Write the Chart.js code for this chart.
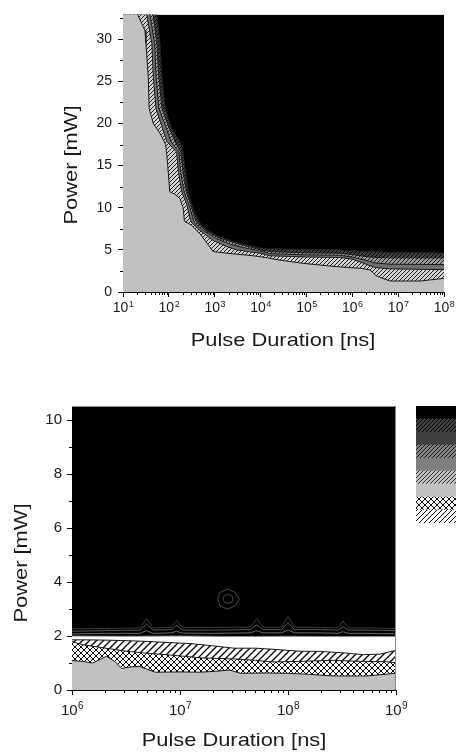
<!DOCTYPE html>
<html>
<head>
<meta charset="utf-8">
<script src="https://cdn.jsdelivr.net/npm/chart.js@4.4.0/dist/chart.umd.min.js"></script>
<style>
  html, body { margin: 0; padding: 0; background: #fff; }
  #wrap { position: relative; width: 456px; height: 756px; overflow: hidden; }
  #wrap canvas { position: absolute; }
</style>
</head>
<body>
<div id="wrap">
  <canvas id="topchart" width="456" height="360" style="left:0;top:0"></canvas>
  <canvas id="bottomchart" width="456" height="376" style="left:0;top:380px"></canvas>
  <canvas id="scalechart" width="40" height="117" style="left:416px;top:406px"></canvas>
</div>
<script>
const FONT = '"Liberation Sans", Arial, Helvetica, sans-serif';

// ---- top panel, x = log10(pulse duration / ns), y = power in mW ----
const topDecades = [1, 2, 3, 4, 5, 6, 7, 8];
const topPowerTicks = [0, 5, 10, 15, 20, 25, 30];
const topPowerMinor = [2.5, 7.5, 12.5, 17.5, 22.5, 27.5, 32.5];

// edge of the light grey area
const topEdge1Exp = [1.00, 1.30, 1.33, 1.48, 1.50, 1.55, 1.57, 1.63, 1.66, 1.81, 1.93, 1.96, 1.99, 2.02, 2.13, 2.24, 2.31, 2.34, 2.50, 2.68, 2.83, 2.97, 3.26, 3.84, 4.10, 4.40, 4.93, 5.66, 6.20, 6.39, 6.53, 6.82, 7.20, 7.48, 7.98, 8.00];
const topEdge1Pow = [45, 34.5, 32.8, 31.0, 29.5, 25.6, 21.8, 20.6, 20.0, 18.8, 17.5, 16.0, 14.0, 11.9, 11.6, 11.1, 10.0, 8.4, 7.9, 6.9, 5.8, 4.8, 4.6, 4.3, 4.1, 3.8, 3.4, 3.0, 2.8, 2.6, 1.9, 1.3, 1.3, 1.3, 1.6, 1.6];
// top of first hatched band
const topEdge2Exp = [1.00, 1.45, 1.52, 1.63, 1.66, 1.72, 1.84, 1.95, 2.17, 2.21, 2.28, 2.39, 2.46, 2.50, 2.68, 2.97, 3.26, 3.48, 3.99, 4.20, 5.00, 5.73, 6.00, 6.30, 6.50, 6.82, 8.00];
const topEdge2Pow = [45, 34.5, 32.8, 29.5, 25.6, 21.8, 19.8, 17.9, 16.6, 14.2, 11.9, 10.4, 8.8, 8.2, 7.3, 6.1, 5.4, 5.0, 4.6, 4.3, 4.15, 4.1, 3.9, 3.3, 2.9, 2.75, 2.65];
// top of mid grey band
const topEdge3Exp = [1.00, 1.52, 1.59, 1.69, 1.72, 1.78, 1.92, 2.04, 2.22, 2.26, 2.33, 2.44, 2.52, 2.56, 2.75, 3.05, 3.35, 3.60, 4.00, 4.20, 5.00, 5.73, 6.00, 6.30, 6.50, 6.82, 8.00];
const topEdge3Pow = [45, 34.5, 32.8, 29.5, 25.6, 21.8, 19.8, 17.9, 16.6, 14.2, 11.9, 10.4, 8.8, 8.2, 7.3, 6.3, 5.65, 5.3, 4.85, 4.55, 4.4, 4.35, 4.15, 3.75, 3.45, 3.3, 3.25];
// top of second hatched band
const topEdge4Exp = [1.00, 1.57, 1.66, 1.74, 1.78, 1.85, 1.98, 2.13, 2.26, 2.31, 2.38, 2.48, 2.56, 2.62, 2.80, 3.10, 3.45, 3.70, 4.00, 4.20, 5.00, 5.73, 6.00, 6.30, 6.50, 6.82, 8.00];
const topEdge4Pow = [45, 34.5, 32.8, 29.5, 25.6, 21.8, 19.8, 17.9, 16.6, 14.2, 11.9, 10.4, 8.8, 8.2, 7.3, 6.4, 5.8, 5.45, 5.0, 4.8, 4.65, 4.6, 4.45, 4.2, 4.1, 4.05, 4.05];
// start of the black area
const topEdge5Exp = [1.00, 1.62, 1.74, 1.80, 1.84, 1.92, 2.05, 2.23, 2.31, 2.36, 2.42, 2.52, 2.61, 2.72, 2.86, 2.98, 3.12, 3.40, 3.69, 4.00, 4.50, 5.00, 5.66, 6.00, 6.39, 7.00, 7.50, 8.00];
const topEdge5Pow = [45, 34.5, 32.8, 30.0, 26.0, 21.8, 19.5, 17.9, 16.6, 14.2, 11.9, 10.0, 8.8, 7.8, 7.3, 6.9, 6.5, 6.0, 5.6, 5.2, 5.1, 5.0, 5.0, 4.9, 4.8, 4.65, 4.7, 4.6];

// ---- bottom panel ----
const botDecades = [6, 7, 8, 9];
const botPowerTicks = [0, 2, 4, 6, 8, 10];
const botPowerMinor = [1, 3, 5, 7, 9];

const botEdge1Exp = [6.00, 6.10, 6.19, 6.32, 6.40, 6.46, 6.55, 6.63, 6.77, 7.00, 7.19, 7.35, 7.46, 7.56, 7.80, 7.99, 8.20, 8.42, 8.73, 9.00];
const botEdge1Pow = [1.09, 1.06, 1.00, 1.25, 1.05, 0.80, 0.86, 0.87, 0.66, 0.67, 0.66, 0.70, 0.74, 0.62, 0.63, 0.62, 0.58, 0.52, 0.52, 0.62];
const botEdge2Exp = [6.00, 6.10, 6.26, 6.40, 6.50, 6.70, 6.90, 7.20, 7.50, 7.70, 7.86, 8.10, 8.40, 8.70, 8.90, 9.00];
const botEdge2Pow = [1.79, 1.68, 1.58, 1.50, 1.44, 1.36, 1.30, 1.19, 1.15, 1.10, 1.04, 1.06, 1.10, 1.06, 1.05, 1.01];
const botEdge3Exp = [6.00, 6.10, 6.30, 6.50, 6.70, 6.90, 7.10, 7.30, 7.50, 7.70, 7.90, 8.10, 8.30, 8.50, 8.70, 8.85, 9.00];
const botEdge3Pow = [1.86, 1.86, 1.85, 1.83, 1.80, 1.76, 1.72, 1.64, 1.55, 1.55, 1.50, 1.44, 1.43, 1.38, 1.31, 1.33, 1.47];
const botEdge4Exp = [6.00, 6.50, 7.00, 7.50, 8.00, 8.50, 9.00];
const botEdge4Pow = [2.00, 1.99, 2.00, 1.98, 1.99, 1.98, 1.98];

// thin contour lines inside the black area
const botContourExp = [6.00, 6.30, 6.63, 6.69, 6.75, 6.92, 6.97, 7.02, 7.30, 7.65, 7.71, 7.77, 7.94, 8.00, 8.06, 8.30, 8.46, 8.51, 8.56, 8.75, 9.00];
const botContourA = [2.08, 2.10, 2.10, 2.20, 2.10, 2.12, 2.18, 2.11, 2.10, 2.12, 2.20, 2.12, 2.12, 2.22, 2.12, 2.12, 2.10, 2.16, 2.10, 2.10, 2.08];
const botContourB = [2.18, 2.20, 2.22, 2.45, 2.22, 2.24, 2.40, 2.22, 2.22, 2.24, 2.42, 2.24, 2.24, 2.50, 2.24, 2.24, 2.22, 2.35, 2.22, 2.22, 2.20];
const botContourC = [2.27, 2.28, 2.30, 2.65, 2.30, 2.32, 2.58, 2.31, 2.32, 2.33, 2.64, 2.33, 2.33, 2.72, 2.33, 2.32, 2.30, 2.55, 2.30, 2.30, 2.28];
const botRingOuterExp = [7.35, 7.37, 7.44, 7.51, 7.55, 7.51, 7.44, 7.37, 7.35];
const botRingOuterPow = [3.38, 3.62, 3.74, 3.62, 3.38, 3.12, 3.00, 3.12, 3.38];
const botRingInnerExp = [7.40, 7.41, 7.44, 7.48, 7.49, 7.48, 7.44, 7.41, 7.40];
const botRingInnerPow = [3.38, 3.50, 3.56, 3.50, 3.38, 3.26, 3.20, 3.26, 3.38];

// colour scale at the right, bottom step first
const scaleSteps = [1, 1, 1, 1, 1, 1, 1, 1, 1];

// --- fills ---
function hatch(ctx, bg, fg, size, cross, lw) {
  const c = document.createElement('canvas');
  c.width = size; c.height = size;
  const g = c.getContext('2d');
  g.fillStyle = bg;
  g.fillRect(0, 0, size, size);
  g.strokeStyle = fg;
  g.lineWidth = lw || 1;
  g.beginPath();
  g.moveTo(-1, size + 1); g.lineTo(size + 1, -1);
  g.moveTo(-1, 1); g.lineTo(1, -1);
  g.moveTo(size - 1, size + 1); g.lineTo(size + 1, size - 1);
  if (cross) {
    g.moveTo(-1, -1); g.lineTo(size + 1, size + 1);
    g.moveTo(size - 1, -1); g.lineTo(size + 1, 1);
    g.moveTo(-1, size - 1); g.lineTo(1, size + 1);
  }
  g.stroke();
  return ctx.createPattern(c, 'repeat');
}

function toPoints(exps, vals) {
  return exps.map((e, i) => ({ x: Math.pow(10, e), y: vals[i] }));
}

function edge(exps, vals, fill, bg, line, width) {
  return {
    data: toPoints(exps, vals),
    fill: fill,
    backgroundColor: bg,
    borderColor: line,
    borderWidth: width,
    pointRadius: 0,
    tension: 0
  };
}

function minorDecades(decades) {
  const out = [];
  decades.slice(0, -1).forEach(n => {
    for (let k = 2; k <= 9; k++) out.push(k * Math.pow(10, n));
  });
  return out;
}

const tickGrid = { display: true, drawOnChartArea: false, drawTicks: true, tickLength: 5, color: '#000', tickWidth: 1 };
const axisLine = { display: true, color: '#000', width: 1 };

function logAxis(decades, height) {
  return {
    type: 'logarithmic',
    min: Math.pow(10, decades[0]),
    max: Math.pow(10, decades[decades.length - 1]),
    afterBuildTicks: s => { s.ticks = decades.map(n => ({ value: Math.pow(10, n) })); },
    afterFit: s => { s.height = height; },
    ticks: { display: false },
    grid: tickGrid,
    border: axisLine
  };
}

function powerAxis(max, ticks, width, size, pad) {
  return {
    type: 'linear',
    min: 0,
    max: max,
    afterBuildTicks: s => { s.ticks = ticks.map(v => ({ value: v })); },
    afterFit: s => { s.width = width; },
    ticks: { font: { family: FONT, size: size }, color: '#1a1a1a', padding: pad },
    grid: tickGrid,
    border: axisLine
  };
}

// minor ticks, 10^n labels and the axis titles
const extras = {
  id: 'extras',
  afterDraw(chart, args, o) {
    const ctx = chart.ctx;
    const a = chart.chartArea;
    const xs = chart.scales.x, ys = chart.scales.y;
    ctx.save();
    ctx.strokeStyle = '#000';
    ctx.lineWidth = 1;
    ctx.beginPath();
    o.xMinor.forEach(v => {
      const p = Math.round(xs.getPixelForValue(v)) + 0.5;
      ctx.moveTo(p, a.bottom); ctx.lineTo(p, a.bottom + 3);
    });
    o.yMinor.forEach(v => {
      const p = Math.round(ys.getPixelForValue(v)) + 0.5;
      ctx.moveTo(a.left - 3, p); ctx.lineTo(a.left, p);
    });
    ctx.stroke();
    if (o.frame) {
      ctx.strokeStyle = o.frame;
      ctx.beginPath();
      ctx.moveTo(a.left, a.top + 0.5);
      ctx.lineTo(a.right - 0.5, a.top + 0.5);
      ctx.lineTo(a.right - 0.5, a.bottom);
      ctx.stroke();
    }
    ctx.fillStyle = '#1a1a1a';
    ctx.textAlign = 'left';
    ctx.textBaseline = 'alphabetic';
    o.decades.forEach(n => {
      const p = xs.getPixelForValue(Math.pow(10, n));
      ctx.font = o.size + 'px ' + FONT;
      const w1 = ctx.measureText('10').width;
      ctx.font = o.supSize + 'px ' + FONT;
      const w2 = ctx.measureText(String(n)).width;
      const left = p - (w1 + w2) / 2;
      ctx.font = o.size + 'px ' + FONT;
      ctx.fillText('10', left, o.baseline);
      ctx.font = o.supSize + 'px ' + FONT;
      ctx.fillText(String(n), left + w1 + 0.5, o.baseline - o.raise);
    });
    ctx.font = o.titleSize + 'px ' + FONT;
    ctx.textAlign = 'center';
    ctx.textBaseline = 'middle';
    o.titles.forEach(t => {
      ctx.save();
      ctx.translate(t.x, t.y);
      ctx.rotate(t.rot || 0);
      ctx.scale(o.stretch, 1);
      ctx.fillText(t.text, 0, 0);
      ctx.restore();
    });
    ctx.restore();
  }
};

Chart.defaults.font.family = FONT;

// top chart
const topCtx = document.getElementById('topchart').getContext('2d');
const hatchLight = hatch(topCtx, '#d0d0d0', '#202020', 4, false);
const hatchMid = hatch(topCtx, '#9a9a9a', '#202020', 4, false);
const hatchDark = hatch(topCtx, '#404040', '#000', 4, false);

new Chart(topCtx, {
  type: 'line',
  data: {
    datasets: [
      edge(topEdge1Exp, topEdge1Pow, 'origin', '#c0c0c0', '#1a1a1a', 1),
      edge(topEdge2Exp, topEdge2Pow, 'origin', hatchLight, '#1a1a1a', 1),
      edge(topEdge3Exp, topEdge3Pow, 'origin', '#707070', '#1a1a1a', 1),
      edge(topEdge4Exp, topEdge4Pow, 'origin', hatchMid, '#1a1a1a', 1),
      edge(topEdge5Exp, topEdge5Pow, 'origin', hatchDark, '#1a1a1a', 1),
      edge(topEdge5Exp, topEdge5Pow, 'end', '#000', 'rgba(0,0,0,0)', 0)
    ]
  },
  options: {
    responsive: false,
    animation: false,
    devicePixelRatio: 1,
    layout: { padding: { left: 0, right: 12, top: 9, bottom: 0 } },
    scales: {
      x: logAxis(topDecades, 68),
      y: powerAxis(32.94, topPowerTicks, 123, 14, 6)
    },
    plugins: {
      legend: { display: false },
      tooltip: { enabled: false },
      extras: {
        xMinor: minorDecades(topDecades),
        yMinor: topPowerMinor,
        decades: topDecades,
        size: 14, supSize: 9, raise: 5, baseline: 312,
        titleSize: 19, stretch: 1.15,
        titles: [
          { text: 'Power [mW]', x: 72, y: 165, rot: -Math.PI / 2 },
          { text: 'Pulse Duration [ns]', x: 283, y: 341 }
        ]
      }
    }
  },
  plugins: [extras]
});

// bottom chart
const botCtx = document.getElementById('bottomchart').getContext('2d');
const crossWhite = hatch(botCtx, '#fff', '#000', 6, true);
const hatchWhite = hatch(botCtx, '#fff', '#000', 7, false, 1.3);

function contour(exps, vals, color) {
  return edge(exps, vals, false, 'rgba(0,0,0,0)', color, 1);
}

new Chart(botCtx, {
  type: 'line',
  data: {
    datasets: [
      contour(botContourExp, botContourA, '#6a6a6a'),
      contour(botContourExp, botContourB, '#5a5a5a'),
      contour(botContourExp, botContourC, '#3e3e3e'),
      contour(botRingOuterExp, botRingOuterPow, '#4a4a4a'),
      contour(botRingInnerExp, botRingInnerPow, '#4a4a4a'),
      edge(botEdge1Exp, botEdge1Pow, 'origin', '#c0c0c0', '#1a1a1a', 1),
      edge(botEdge2Exp, botEdge2Pow, 'origin', crossWhite, '#1a1a1a', 1),
      edge(botEdge3Exp, botEdge3Pow, 'origin', hatchWhite, '#1a1a1a', 1),
      edge(botEdge4Exp, botEdge4Pow, 'origin', '#fff', '#8a8a8a', 1),
      edge(botEdge4Exp, botEdge4Pow, 'end', '#000', 'rgba(0,0,0,0)', 0)
    ]
  },
  options: {
    responsive: false,
    animation: false,
    devicePixelRatio: 1,
    layout: { padding: { left: 0, right: 60, top: 26, bottom: 0 } },
    scales: {
      x: logAxis(botDecades, 66),
      y: powerAxis(10.53, botPowerTicks, 72, 15, 5)
    },
    plugins: {
      legend: { display: false },
      tooltip: { enabled: false },
      extras: {
        xMinor: minorDecades(botDecades),
        yMinor: botPowerMinor,
        decades: botDecades,
        size: 15, supSize: 10, raise: 6, baseline: 335,
        titleSize: 19, stretch: 1.15, frame: '#8a8a8a',
        titles: [
          { text: 'Power [mW]', x: 22, y: 183, rot: -Math.PI / 2 },
          { text: 'Pulse Duration [ns]', x: 234, y: 361 }
        ]
      }
    }
  },
  plugins: [extras]
});

// colour scale
const scaleCtx = document.getElementById('scalechart').getContext('2d');
const scaleFills = [
  hatch(scaleCtx, '#fff', '#000', 5, false),
  hatch(scaleCtx, '#fff', '#000', 6, true),
  '#c0c0c0',
  hatch(scaleCtx, '#c0c0c0', '#303030', 4, false),
  '#808080',
  hatch(scaleCtx, '#808080', '#202020', 4, false),
  '#404040',
  hatch(scaleCtx, '#404040', '#000', 4, false),
  '#000'
];

new Chart(scaleCtx, {
  type: 'bar',
  data: {
    labels: [''],
    datasets: scaleSteps.map((v, i) => ({
      data: [v],
      backgroundColor: scaleFills[i],
      borderWidth: 0,
      barPercentage: 1,
      categoryPercentage: 1
    }))
  },
  options: {
    responsive: false,
    animation: false,
    devicePixelRatio: 1,
    layout: { padding: 0 },
    scales: {
      x: { display: false, stacked: true },
      y: { display: false, stacked: true, min: 0, max: scaleSteps.length }
    },
    plugins: { legend: { display: false }, tooltip: { enabled: false } }
  }
});
</script>
</body>
</html>
